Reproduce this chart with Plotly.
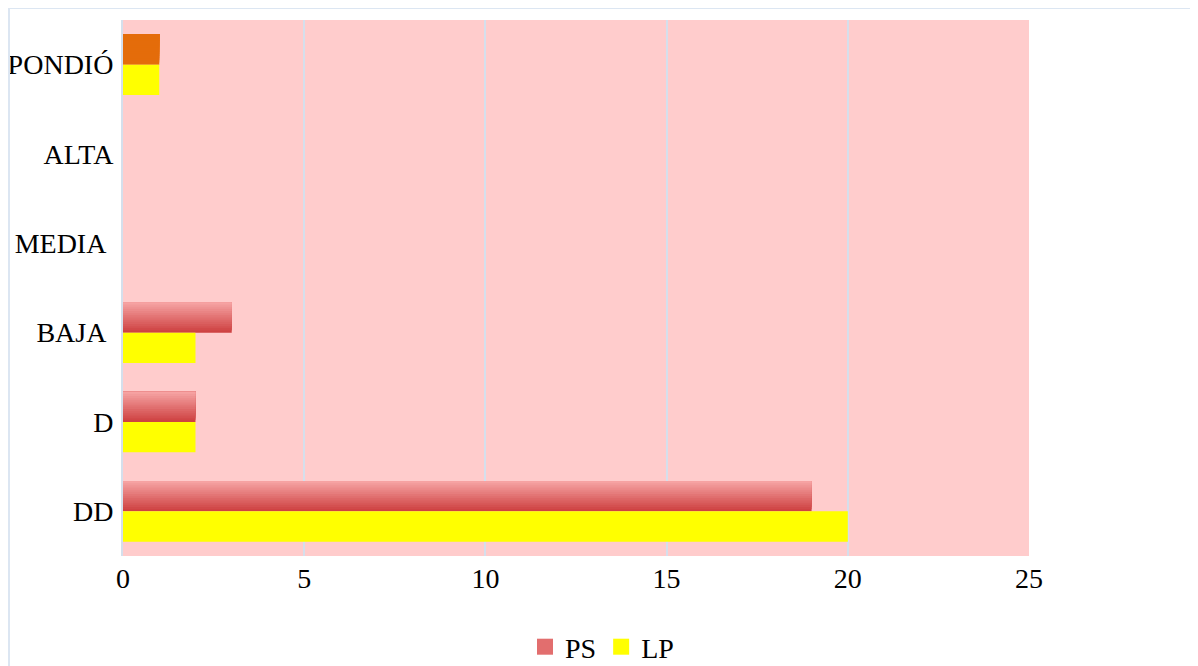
import plotly.graph_objects as go

categories = ['DD', 'D', 'BAJA', 'MEDIA', 'ALTA', 'NO RESPONDIÓ']
# labels as shown (some carry a trailing space in the source)
tick_labels = ['DD', 'D', 'BAJA\u00a0', 'MEDIA\u00a0', 'ALTA', 'NO RESPONDIÓ']
ps_values = [19, 2, 3, 0, 0, 1]
lp_values = [20, 2, 2, 0, 0, 1]

# page has an 8px body margin, so the figure is 8px smaller than the window
W, H = 1190, 658
L, R, T, B = 115, 169, 12, 110
pw, ph = W - L - R, H - T - B

def px_x(p):
    return (p - L) / pw

def px_y(p):
    return (H - B - p) / ph

ps_top = (246, 162, 162)
ps_bot = (206, 66, 66)
orange = '#E46C0A'
yellow = '#FFFF00'

bar_w = 0.34
n = 14

fig = go.Figure()

# PS bars drawn as nested slices to mimic the vertical gradient
for k in range(n - 1, -1, -1):
    t = k / (n - 1)
    c = tuple(int(ps_top[i] + (ps_bot[i] - ps_top[i]) * t) for i in range(3))
    col = 'rgb(%d,%d,%d)' % c
    colors = [orange if cat == 'NO RESPONDIÓ' else col for cat in categories]
    w = bar_w * (k + 1) / n
    fig.add_trace(go.Bar(
        y=categories, x=ps_values, orientation='h',
        width=w, offset=bar_w - w,
        marker=dict(color=colors, line_width=0),
        name='PS', showlegend=False, hoverinfo='skip',
    ))

fig.add_trace(go.Bar(
    y=categories, x=lp_values, orientation='h',
    width=bar_w, offset=-bar_w,
    marker=dict(color=yellow, line_width=0),
    name='LP', showlegend=False,
))

# legend entries (square swatches)
fig.add_trace(go.Scatter(
    x=[None], y=[None], mode='markers', name='PS',
    marker=dict(symbol='square', size=16, color='rgb(226,110,110)'),
))
fig.add_trace(go.Scatter(
    x=[None], y=[None], mode='markers', name='LP',
    marker=dict(symbol='square', size=16, color=yellow),
))

grid = '#D5DFEC'
font = 'Liberation Serif, Times New Roman, serif'

fig.update_layout(
    template='none',
    width=W, height=H,
    margin=dict(l=L, r=R, t=T, b=B, autoexpand=False),
    barmode='overlay',
    plot_bgcolor='#FFCCCC',
    paper_bgcolor='white',
    font=dict(family=font, size=28, color='black'),
    xaxis=dict(
        range=[0, 25], dtick=5, tick0=0,
        showgrid=True, gridcolor=grid, gridwidth=2,
        zeroline=False, showline=False,
        ticks='', ticklabelstandoff=3,
        automargin=False,
    ),
    yaxis=dict(
        type='category', categoryorder='array', categoryarray=categories,
        tickmode='array', tickvals=categories, ticktext=tick_labels,
        showgrid=False, zeroline=False,
        showline=True, linecolor=grid, linewidth=2,
        ticks='', ticklabelstandoff=2,
        automargin=False,
    ),
    legend=dict(
        orientation='h', x=px_x(594), xanchor='center',
        y=px_y(639), yanchor='middle',
        font=dict(size=28),
        bgcolor='rgba(0,0,0,0)',
        itemsizing='trace',
        itemwidth=30,
        traceorder='normal',
    ),
    showlegend=True,
    shapes=[
        dict(type='line', xref='paper', yref='paper', layer='above',
             x0=px_x(1), x1=px_x(W + 20), y0=px_y(0), y1=px_y(0),
             line=dict(color='#DCE6F2', width=2)),
        dict(type='line', xref='paper', yref='paper', layer='above',
             x0=px_x(1), x1=px_x(1), y0=px_y(0), y1=px_y(H + 20),
             line=dict(color='#DCE6F2', width=2)),
    ],
)

fig.write_html('out.html')
